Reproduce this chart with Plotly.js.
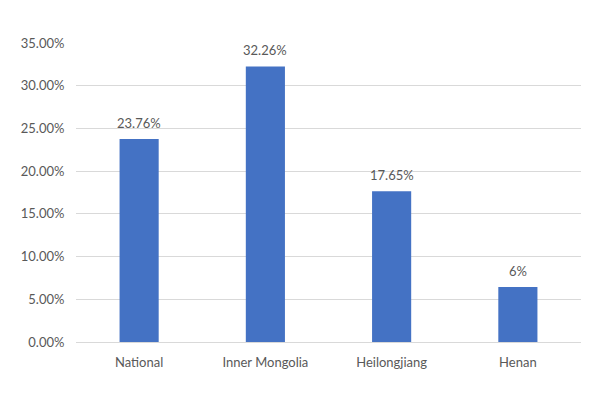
<!DOCTYPE html>
<html>
<head>
<meta charset="utf-8">
<script src="https://cdn.plot.ly/plotly-3.0.1.min.js"></script>
<style>html,body{margin:0;padding:0;background:#fff;}#chart{width:600px;height:412px;}</style>
</head>
<body>
<div id="chart"></div>
<script>
const categories = ["National", "Inner Mongolia", "Heilongjiang", "Henan"];
const values = [0.2376, 0.3226, 0.1765, 0.0644];
const labels = ["23.76%", "32.26%", "17.65%", "6%"];

const font = {family: "Lato, 'Open Sans', sans-serif", size: 13, color: "#595959"};

const trace = {
  type: "bar",
  x: categories,
  y: values,
  marker: {color: "#4472C4"},
  hoverinfo: "none"
};

const annotations = categories.map((c, i) => ({
  x: c, y: values[i], xref: "x", yref: "y",
  text: labels[i], showarrow: false,
  yanchor: "bottom", yshift: 6,
  font: font
}));

const layout = {
  width: 600, height: 412,
  margin: {l: 76, r: 19, t: 43, b: 70},
  paper_bgcolor: "#ffffff",
  plot_bgcolor: "#ffffff",
  bargap: 0.69,
  showlegend: false,
  font: font,
  xaxis: {
    showgrid: false,
    showline: true,
    linecolor: "#D9D9D9",
    linewidth: 1,
    ticks: "outside",
    ticklen: 8,
    tickcolor: "rgba(0,0,0,0)",
    tickfont: font
  },
  yaxis: {
    range: [0, 0.35],
    dtick: 0.05,
    tickformat: ".2%",
    showgrid: true,
    gridcolor: "#D9D9D9",
    gridwidth: 1,
    zeroline: false,
    showline: false,
    ticks: "outside",
    ticklen: 8,
    tickcolor: "rgba(0,0,0,0)",
    tickfont: font
  },
  annotations: annotations
};

Plotly.newPlot("chart", [trace], layout, {staticPlot: true, displayModeBar: false});
</script>
</body>
</html>
